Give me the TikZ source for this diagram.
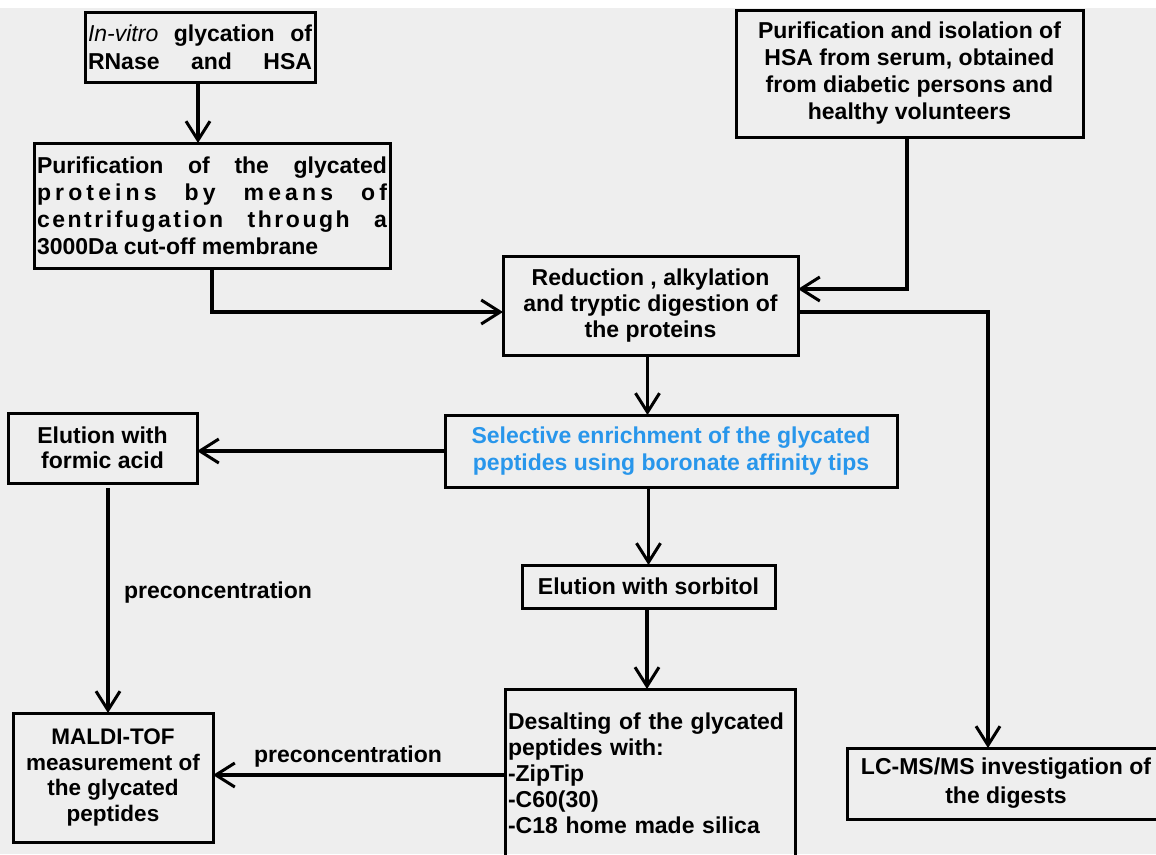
\documentclass[tikz,border=0pt]{standalone}
\usepackage{fontspec}
\setmainfont{Liberation Sans}
\usetikzlibrary{arrows.meta}
\definecolor{bg}{RGB}{238,238,238}
\definecolor{blu}{RGB}{40,150,235}
\begin{document}
\begin{tikzpicture}[x=1pt,y=-1pt,
  box/.style={draw=black, line width=3pt, inner sep=0pt, outer sep=0pt,
    font=\fontsize{23}{27}\selectfont\bfseries, align=center},
  conn/.style={line width=3.5pt, -{Straight Barb[length=19pt,width=24pt,line width=3pt]}},
  lbl/.style={font=\fontsize{23}{26}\selectfont\bfseries, inner sep=0pt}]
\fill[bg] (0,0) rectangle (1156,854);
\fill[white] (0,0) rectangle (1156,8);
\useasboundingbox (0,0) rectangle (1156,854);

% boxes
\node[box, minimum width=230pt, minimum height=70pt, font=\fontsize{23}{28}\selectfont\bfseries] (b1) at (200,47)
  {\makebox[224pt][s]{\textit{\mdseries In-vitro} glycation of}\\\makebox[224pt][s]{RNase and HSA}};
\node[box, minimum width=356pt, minimum height=125pt] (b2) at (212,205.5)
  {\makebox[350pt][s]{Purification of the glycated}\\
   \makebox[350pt][s]{\addfontfeature{LetterSpace=18}proteins by means of}\\
   \makebox[350pt][s]{\addfontfeature{LetterSpace=11}centrifugation through a}\\
   \makebox[350pt][l]{3000Da cut-off membrane}};
\node[box, minimum width=347pt, minimum height=127pt] (b4) at (909.5,73.5)
  {Purification and isolation of\\HSA from serum, obtained\\from diabetic persons and\\healthy volunteers};
\node[box, minimum width=295pt, minimum height=99pt, font=\fontsize{23}{26}\selectfont\bfseries] (b3) at (650.5,305.5)
  {Reduction , alkylation\\and tryptic digestion of\\the proteins};
\node[box, minimum width=452pt, minimum height=72pt, text=blu] (b5) at (671,451)
  {Selective enrichment of the glycated\\peptides using boronate affinity tips};
\node[box, minimum width=189pt, minimum height=70pt, font=\fontsize{23}{25}\selectfont\bfseries] (b6) at (102.5,448)
  {Elution with\\formic acid};
\node[box, minimum width=253pt, minimum height=43pt] (b7) at (648.5,586.5)
  {Elution with sorbitol};
\node[box, minimum width=290pt, minimum height=168pt, text width=284pt, align=left, font=\fontsize{23}{26}\selectfont\bfseries] (b8) at (650,773)
  {Desalting of the glycated\\peptides with:\\-ZipTip\\-C60(30)\\-C18 home made silica};
\node[box, minimum width=200pt, minimum height=129pt, font=\fontsize{22.5}{25.5}\selectfont\bfseries] (b9) at (113,777.5)
  {MALDI-TOF\\measurement of\\the glycated\\peptides};
\node[box, minimum width=318pt, minimum height=71pt, font=\fontsize{23}{29}\selectfont\bfseries] (lc) at (1006,783.5)
  {LC-MS/MS investigation of\\the digests};

% labels
\node[lbl] (p1) at (218,593) {preconcentration};
\node[lbl] (p2) at (348,757) {preconcentration};

% connectors
\draw[conn] ([xshift=-2pt]b1.south) -- ([xshift=-2pt]b1.south |- b2.north);
\draw[conn] (b2.south) |- ([yshift=-6.5pt]b3.west);
\draw[conn] ([xshift=-2.5pt]b4.south) |- ([yshift=16.5pt]b3.east);
\draw[conn] ([yshift=-6.5pt]b3.east) -| ([xshift=-18pt]lc.north);
\draw[conn] ([xshift=-3pt]b3.south) -- ([xshift=-3pt]b3.south |- b5.north);
\draw[conn] (b5.west) -- (b5.west -| b6.east);
\draw[conn] (b7.north |- b5.south) -- (b7.north);
\draw[conn] ([xshift=-1.5pt]b7.south) -- ([xshift=-1.5pt]b7.south |- b8.north);
\draw[conn] ([xshift=5.5pt,yshift=-5pt]b6.south) -- ([xshift=5.5pt]b6.south |- b9.north);
\draw[conn] ([yshift=-2pt]b8.west) -- ([yshift=-2pt]b8.west -| b9.east);
\end{tikzpicture}
\end{document}
